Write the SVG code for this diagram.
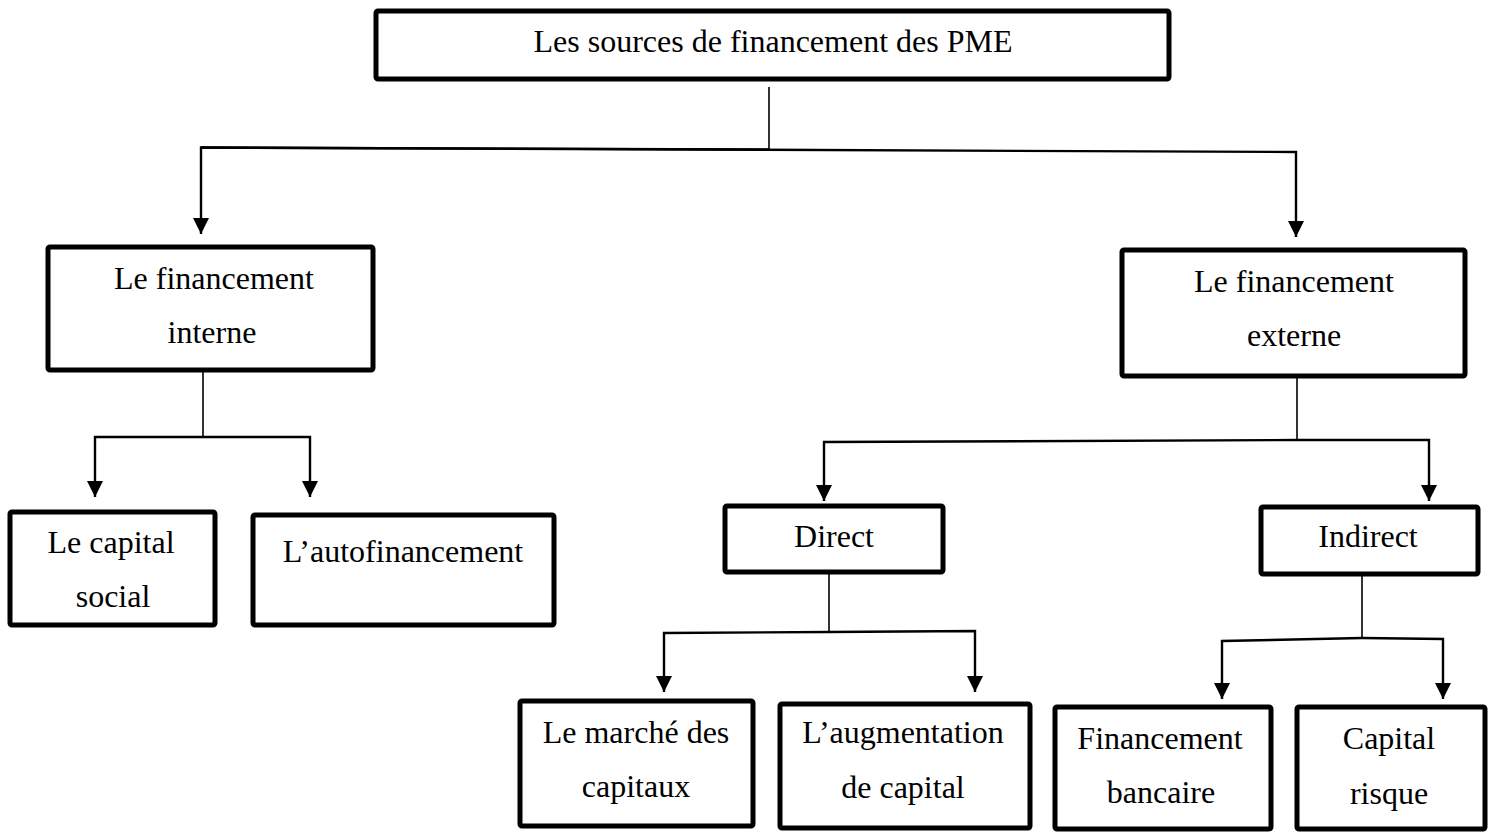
<svg xmlns="http://www.w3.org/2000/svg" width="1488" height="833" viewBox="0 0 1488 833">
<defs>
<style>
.box{fill:#fff;stroke:#000;stroke-width:5;stroke-linejoin:round}
.t{font-family:"Liberation Serif","Times New Roman",serif;font-size:32px;fill:#000;text-anchor:middle}
.ln{fill:none;stroke:#000;stroke-width:1.6}
.ar{fill:none;stroke:#000;stroke-width:2.4;marker-end:url(#ah)}
</style>
<marker id="ah" markerUnits="userSpaceOnUse" markerWidth="16" markerHeight="16" viewBox="0 0 16 16" refX="16" refY="8" orient="auto">
<path d="M0,0 L16,8 L0,16 z" fill="#000"/>
</marker>
</defs>
<rect width="1488" height="833" fill="#fff"/>
<g id="connectors">
<line class="ln" x1="769" y1="87" x2="769" y2="150"/>
<polyline class="ar" points="201,147.5 1296,152 1296,237"/>
<polyline class="ar" points="769,149.5 201,147.5 201,234"/>
<line class="ln" x1="203" y1="372" x2="203" y2="437"/>
<polyline class="ar" points="203,437 95,437 95,497"/>
<polyline class="ar" points="203,437 310,437 310,497"/>
<line class="ln" x1="1297" y1="377" x2="1297" y2="440"/>
<polyline class="ar" points="1297,440 824,442 824,501"/>
<polyline class="ar" points="1297,440 1429,440 1429,501"/>
<line class="ln" x1="829" y1="573" x2="829" y2="632"/>
<polyline class="ar" points="829,632 664,633 664,692"/>
<polyline class="ar" points="829,632 975,631 975,692"/>
<line class="ln" x1="1362" y1="576" x2="1362" y2="638"/>
<polyline class="ar" points="1362,638 1222,641 1222,699"/>
<polyline class="ar" points="1362,638 1443,639 1443,699"/>
</g>
<g id="root">
<rect class="box" x="376" y="11" width="793" height="68" rx="2"/>
<text class="t" x="773" y="52">Les sources de financement des PME</text>
</g>
<g id="interne">
<rect class="box" x="48" y="247" width="325" height="123" rx="2"/>
<text class="t" x="214" y="289">Le financement</text>
<text class="t" x="212" y="343">interne</text>
</g>
<g id="externe">
<rect class="box" x="1122" y="250" width="343" height="126" rx="2"/>
<text class="t" x="1294" y="292">Le financement</text>
<text class="t" x="1294" y="346">externe</text>
</g>
<g id="capital-social">
<rect class="box" x="10" y="512" width="205" height="113" rx="2"/>
<text class="t" x="111" y="553">Le capital</text>
<text class="t" x="113" y="607">social</text>
</g>
<g id="autofinancement">
<rect class="box" x="253" y="515" width="301" height="110" rx="2"/>
<text class="t" x="403" y="562">L’autofinancement</text>
</g>
<g id="direct">
<rect class="box" x="725" y="506" width="218" height="66" rx="2"/>
<text class="t" x="834" y="547">Direct</text>
</g>
<g id="indirect">
<rect class="box" x="1261" y="507" width="217" height="67" rx="2"/>
<text class="t" x="1368" y="547">Indirect</text>
</g>
<g id="marche">
<rect class="box" x="520" y="701" width="233" height="125" rx="2"/>
<text class="t" x="636" y="743">Le marché des</text>
<text class="t" x="636" y="797">capitaux</text>
</g>
<g id="augmentation">
<rect class="box" x="780" y="704" width="250" height="124" rx="2"/>
<text class="t" x="903" y="743">L’augmentation</text>
<text class="t" x="903" y="798">de capital</text>
</g>
<g id="bancaire">
<rect class="box" x="1055" y="707" width="216" height="122" rx="2"/>
<text class="t" x="1160" y="749">Financement</text>
<text class="t" x="1161" y="803">bancaire</text>
</g>
<g id="risque">
<rect class="box" x="1297" y="707" width="188" height="122" rx="2"/>
<text class="t" x="1389" y="749">Capital</text>
<text class="t" x="1389" y="804">risque</text>
</g>
</svg>
